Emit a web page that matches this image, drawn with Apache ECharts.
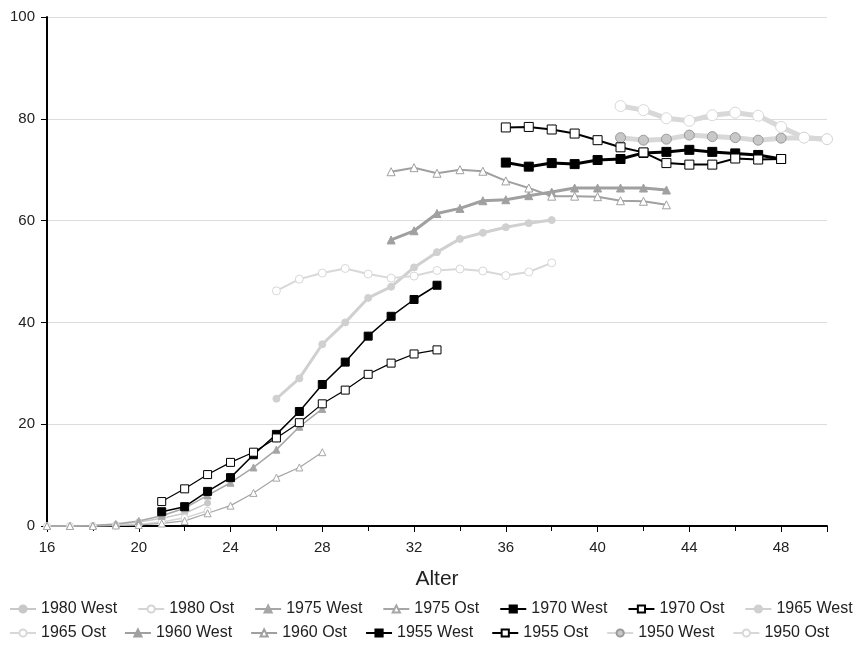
<!DOCTYPE html>
<html lang="de">
<head>
    <meta charset="UTF-8">
    <script src="https://cdn.jsdelivr.net/npm/echarts@6/dist/echarts.min.js"></script>
    <title>Alter</title>
    <style>
        html, body { height: 100%; margin: 0; padding: 0; background: #fff; }
    </style>
</head>
<body>
    <div id="chart" style="width: 866px; height: 648px;"></div>
    <script>
        // Startalter und Werte je Kohorte
        var start1980 = 16;
        var west1980 = [0, 0, 0.1, 0.3, 0.8, 1.5, 2.5, 4.5];
        var ost1980 = [0, 0, 0, 0.1, 0.3, 0.8, 1.6, 3.0];
        var start1975 = 16;
        var west1975 = [0, 0, 0.1, 0.4, 1, 2, 3.5, 6, 8.5, 11.5, 15, 19.5, 23];
        var ost1975 = [0, 0, 0, 0.1, 0.2, 0.5, 1, 2.5, 4, 6.5, 9.5, 11.5, 14.5];
        var start1970 = 21;
        var west1970 = [2.8, 3.8, 6.8, 9.5, 14, 18, 22.5, 27.8, 32.2, 37.3, 41.2, 44.5, 47.3];
        var ost1970 = [4.8, 7.3, 10.1, 12.5, 14.5, 17.3, 20.3, 24, 26.7, 29.8, 32, 33.8, 34.6];
        var start1965 = 26;
        var west1965 = [25, 29, 35.7, 40, 44.8, 47, 50.8, 53.8, 56.4, 57.6, 58.7, 59.5, 60.1];
        var ost1965 = [46.2, 48.5, 49.7, 50.6, 49.5, 48.7, 49.1, 50.2, 50.5, 50.1, 49.2, 49.9, 51.7];
        var start1960 = 31;
        var west1960 = [56.2, 58, 61.4, 62.4, 63.9, 64.1, 64.9, 65.6, 66.4, 66.4, 66.4, 66.4, 66.0];
        var ost1960 = [69.6, 70.4, 69.3, 70, 69.7, 67.8, 66.4, 64.8, 64.8, 64.7, 63.9, 63.8, 63.1];
        var start1955 = 36;
        var west1955 = [71.4, 70.6, 71.3, 71.1, 71.9, 72.1, 73.3, 73.5, 73.9, 73.5, 73.2, 72.9, 72.1];
        var ost1955 = [78.3, 78.4, 77.9, 77.1, 75.8, 74.4, 73.4, 71.3, 71.0, 71.0, 72.2, 72.0, 72.1];
        var start1950 = 41;
        var west1950 = [76.3, 75.8, 76.0, 76.8, 76.5, 76.3, 75.8, 76.2, 76.3, 76.0];
        var ost1950 = [82.5, 81.7, 80.1, 79.6, 80.7, 81.2, 80.6, 78.4, 76.3, 76.0];

        function pairs(start, vals) {
            return vals.map(function (v, i) { return [start + i, v]; });
        }

        function mk(name, start, vals, color, symbol, filled, width, size) {
            return {
                name: name,
                type: 'line',
                data: pairs(start, vals),
                symbol: symbol,
                symbolSize: size,
                showAllSymbol: true,
                z: width > 2 ? 2 : 3,
                lineStyle: { color: color, width: width },
                itemStyle: {
                    color: filled ? (filled === true ? color : filled) : '#fff',
                    borderColor: filled === true ? color : (filled ? '#999' : color),
                    borderWidth: 1
                },
                emphasis: { disabled: true }
            };
        }

        var sq = 'rect';
        var series = [
            mk('1980 West', start1980, west1980, '#c8c8c8', 'circle', true, 1.5, 6),
            mk('1980 Ost', start1980, ost1980, '#d4d4d4', 'circle', false, 1.5, 7),
            mk('1975 West', start1975, west1975, '#a6a6a6', 'triangle', true, 1.5, 7),
            mk('1975 Ost', start1975, ost1975, '#a6a6a6', 'triangle', false, 1.2, 7),
            mk('1970 West', start1970, west1970, '#000', sq, true, 1.5, 8),
            mk('1970 Ost', start1970, ost1970, '#000', sq, false, 1.2, 8),
            mk('1965 West', start1965, west1965, '#d0d0d0', 'circle', true, 3, 7),
            mk('1965 Ost', start1965, ost1965, '#d8d8d8', 'circle', false, 2, 8),
            mk('1960 West', start1960, west1960, '#a0a0a0', 'triangle', true, 3, 8),
            mk('1960 Ost', start1960, ost1960, '#a0a0a0', 'triangle', false, 2, 8),
            mk('1955 West', start1955, west1955, '#000', sq, true, 3, 9),
            mk('1955 Ost', start1955, ost1955, '#000', sq, false, 2, 9),
            mk('1950 West', start1950, west1950, '#d8d8d8', 'circle', '#c8c8c8', 5, 10),
            mk('1950 Ost', start1950, ost1950, '#d8d8d8', 'circle', false, 5, 11)
        ];

        var names = series.map(function (s) { return s.name; });
        var legendText = { fontFamily: 'Liberation Sans', fontSize: 16, color: '#222' };

        var chart = echarts.init(document.getElementById('chart'));
        chart.setOption({
            animation: false,
            backgroundColor: '#fff',
            grid: { left: 47, right: 39, top: 17, bottom: 122 },
            legend: [
                { data: names.slice(0, 7), left: 4, top: 596, itemGap: 20, itemWidth: 26, itemHeight: 9, textStyle: legendText },
                { data: names.slice(7), left: 4, top: 620, itemGap: 18, itemWidth: 26, itemHeight: 9, textStyle: legendText }
            ],
            xAxis: {
                type: 'value', min: 16, max: 50, interval: 4,
                name: 'Alter', nameLocation: 'middle', nameGap: 43,
                nameTextStyle: { fontFamily: 'Liberation Sans', fontSize: 21, color: '#222' },
                axisLine: { lineStyle: { color: '#000', width: 2 } },
                axisTick: { show: true, length: 6, lineStyle: { color: '#000' } },
                minorTick: { show: true, splitNumber: 2, length: 5, lineStyle: { color: '#000' } },
                axisLabel: { fontFamily: 'Liberation Sans', fontSize: 15, color: '#222', margin: 14, showMaxLabel: false },
                splitLine: { show: false }
            },
            yAxis: {
                type: 'value', min: 0, max: 100, interval: 20,
                axisLine: { show: true, lineStyle: { color: '#000', width: 2 } },
                axisTick: { show: true, length: 6, lineStyle: { color: '#000' } },
                axisLabel: { fontFamily: 'Liberation Sans', fontSize: 15, color: '#222', margin: 12 },
                splitLine: { lineStyle: { color: '#dcdcdc' } }
            },
            series: series
        });
    </script>
</body>
</html>
